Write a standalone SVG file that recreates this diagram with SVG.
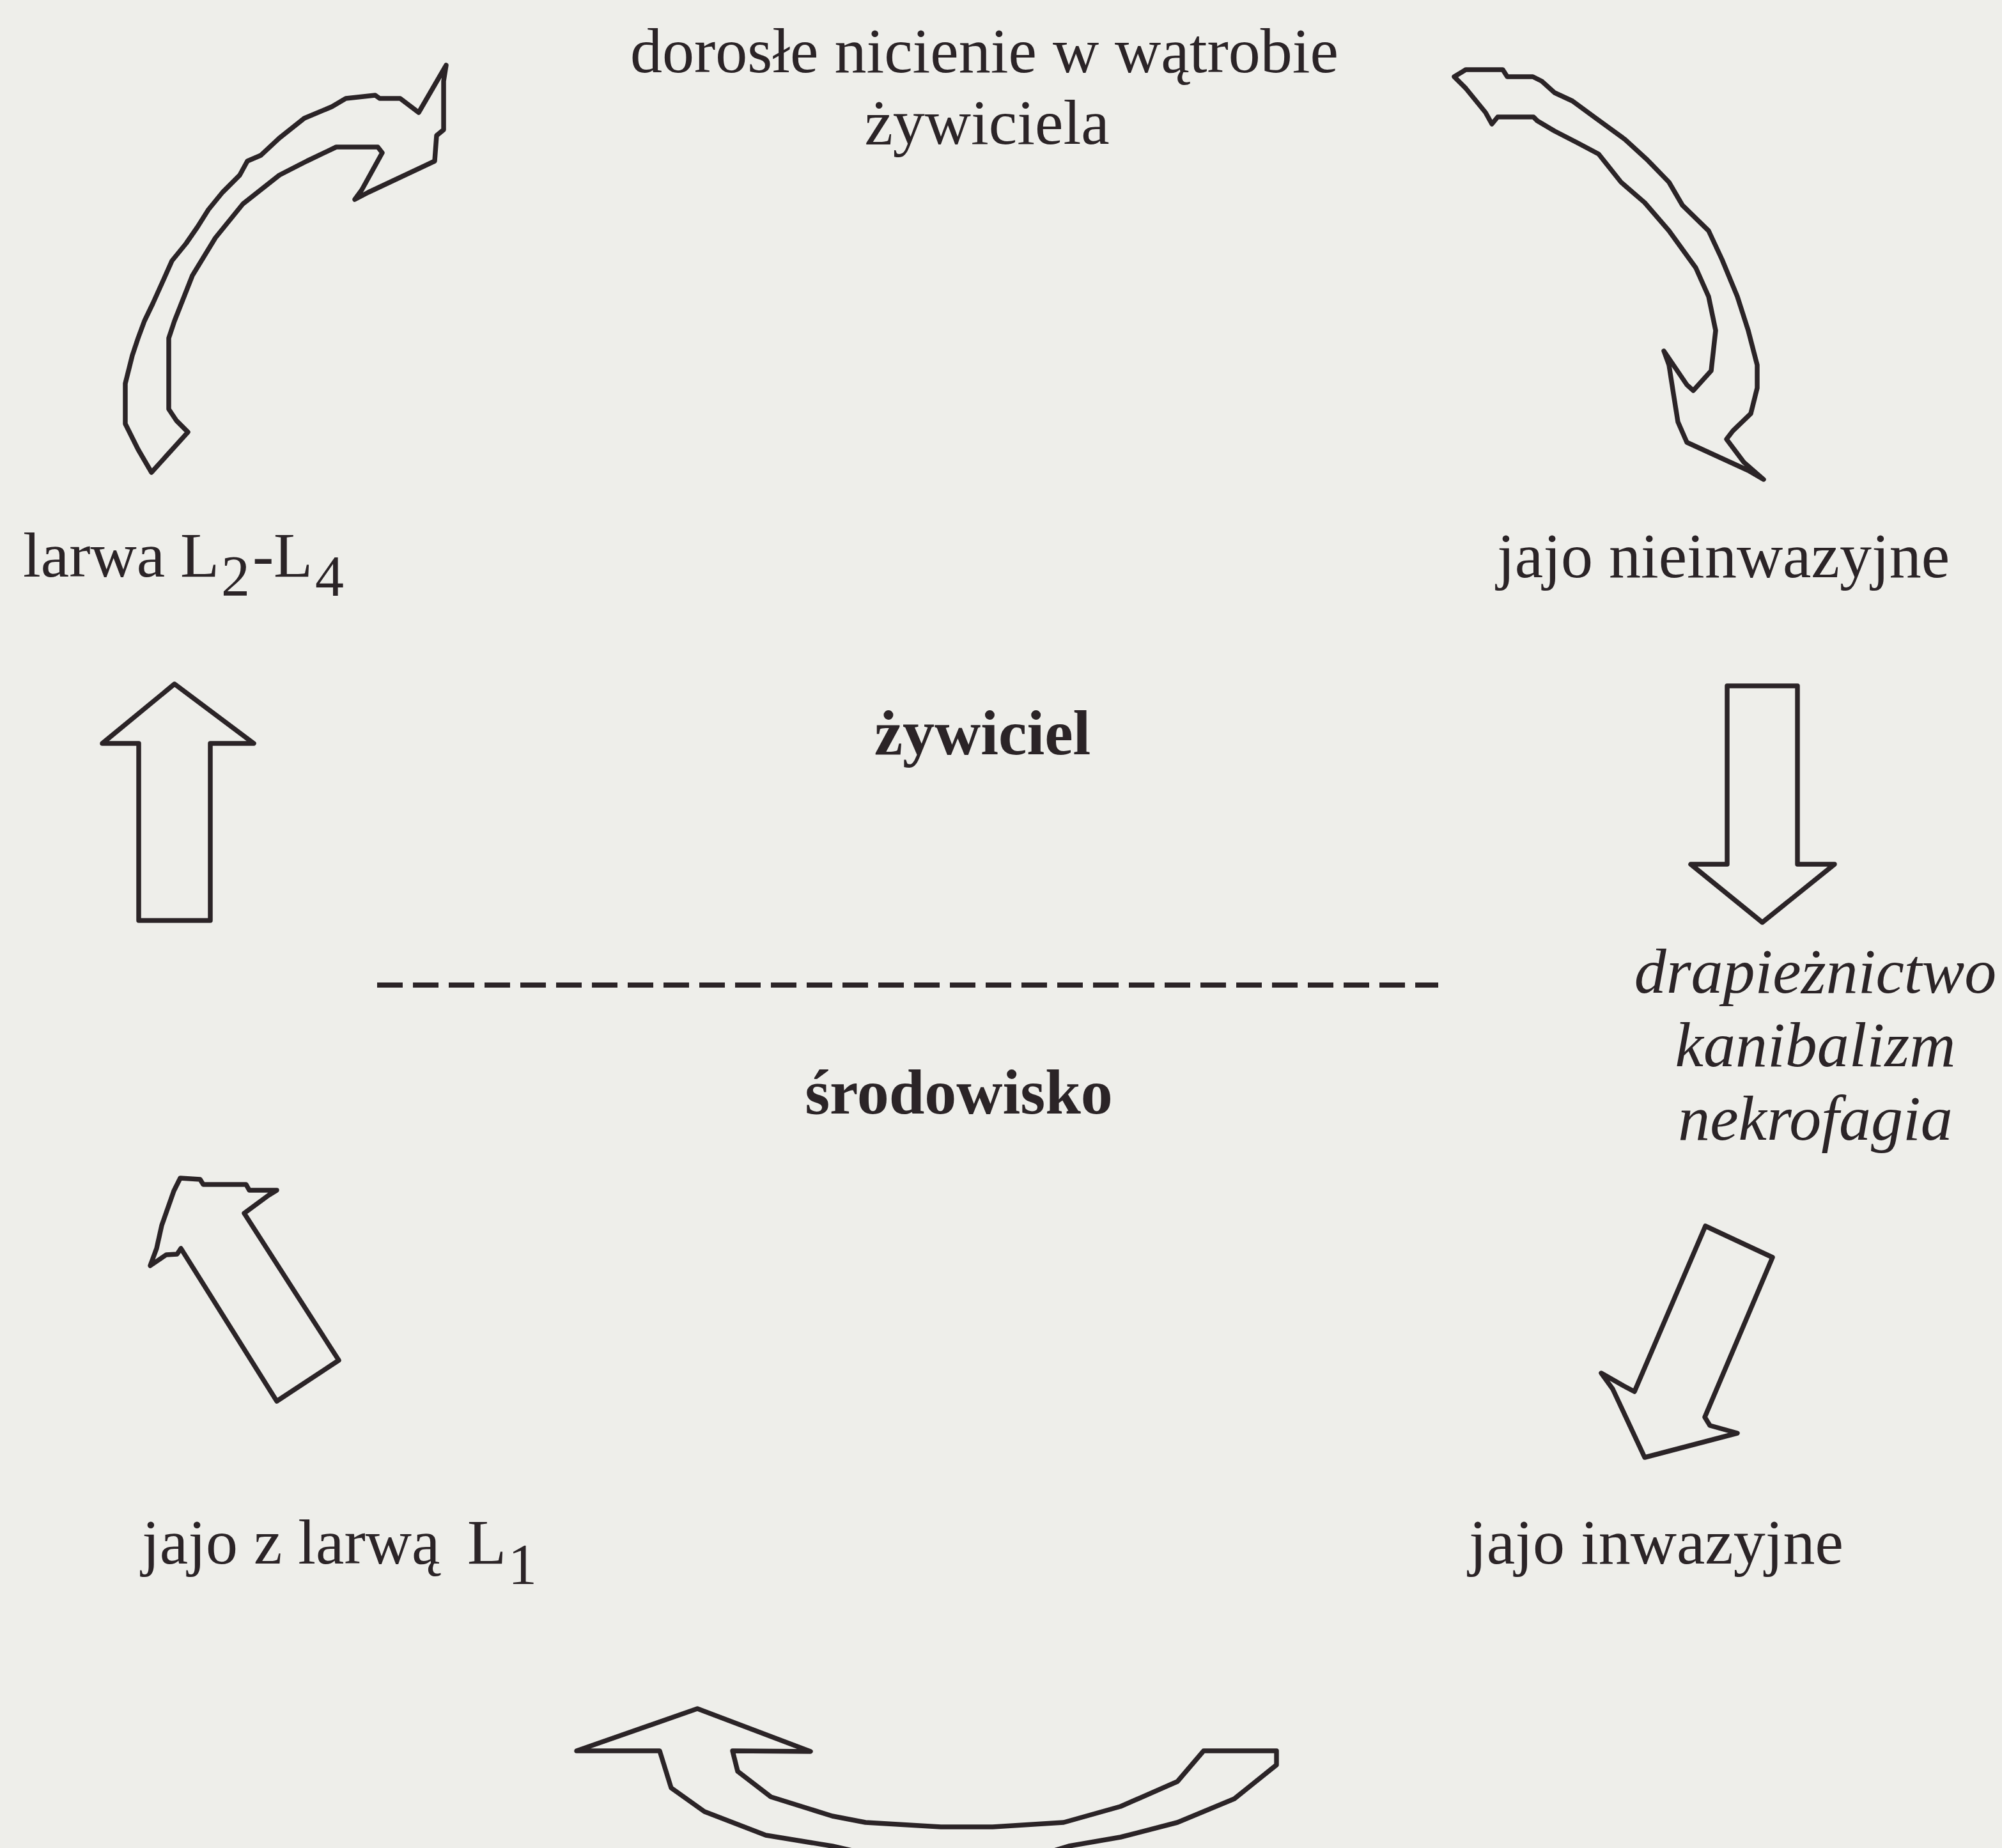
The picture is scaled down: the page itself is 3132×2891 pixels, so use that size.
<svg xmlns="http://www.w3.org/2000/svg" width="3132" height="2891" viewBox="0 0 3132 2891">
<style>
.t{font-family:"Liberation Serif","Times New Roman",serif;font-size:100px;fill:#2b2427}
.b{font-weight:bold}
.i{font-style:italic}
.m{text-anchor:middle}
.ar{fill:none;stroke:#2b2427;stroke-width:7.5;stroke-linejoin:round;stroke-linecap:round}
</style>
<rect width="3132" height="2891" fill="#eeeeea"/>
<g id="connectors">
<polygon id="arr-tl" class="ar" points="196,663 196,600 207,556 216,529 226,502 239,475 257,435 269,408 291,381 309,355 326,328 348,301 375,274 387,252 408,243 437,216 476,185 519,167 541,154 587,149 594,154 626,154 655,176 698,102 694,127 694,203 683,212 680,252 576,301 555,312 566,297 598,239 591,230 526,230 480,252 437,274 380,319 337,372 301,431 273,502 264,529 264,640 276,658 294,676 237,739 216,703"/>
<polygon id="arr-tr" class="ar" points="2275,120 2293,109 2351,109 2358,120 2398,120 2412,127 2432,145 2460,158 2494,183 2542,218 2577,250 2611,285 2632,321 2673,361 2694,406 2718,464 2735,517 2749,571 2749,607 2739,647 2711,674 2701,687 2728,723 2759,750 2735,736 2639,692 2625,660 2618,616 2611,571 2603,549 2639,602 2649,611 2677,580 2684,517 2673,464 2653,419 2611,361 2573,317 2536,285 2501,241 2467,223 2432,205 2405,189 2399,183 2343,183 2334,194 2324,176 2293,138"/>
<polygon id="arr-up" class="ar" points="273,1070 397,1163 329,1163 329,1440 217,1440 217,1163 160,1163"/>
<polygon id="arr-down" class="ar" points="2702,1073 2812,1073 2812,1352 2870,1352 2757,1443 2645,1352 2702,1352"/>
<polygon id="arr-bl" class="ar" points="282,1843 313,1845 318,1853 385,1853 390,1862 433,1862 420,1870 382,1898 530,2128 433,2192 283,1953 277,1962 260,1963 235,1980 245,1953 253,1917 272,1863"/>
<polygon id="arr-br" class="ar" points="2668,1918 2773,1967 2667,2217 2675,2230 2718,2242 2573,2280 2523,2173 2505,2148 2540,2168 2557,2177"/>
<polygon id="arr-bottom" class="ar" points="902,2739 1091,2673 1268,2740 1146,2739 1154,2771 1206,2811 1302,2841 1354,2851 1472,2858 1553,2858 1664,2851 1753,2826 1842,2787 1883,2739 1997,2739 1997,2761 1931,2814 1842,2851 1753,2874 1672,2888 1600,2910 1400,2910 1302,2888 1198,2871 1102,2834 1050,2797 1032,2739"/>
<line id="divider" x1="590" y1="1541" x2="2250" y2="1541" stroke="#2b2427" stroke-width="8" stroke-dasharray="40 16"/>
</g>
<g id="node-adult">
<text class="t m" x="1540" y="113">dorosłe nicienie w wątrobie</text>
<text class="t m" x="1544" y="225">żywiciela</text>
</g>
<g id="node-larva">
<text class="t" y="902"><tspan x="36">larwa</tspan><tspan x="282">L</tspan><tspan x="346" y="932" font-size="90">2</tspan><tspan x="395" y="902">-</tspan><tspan x="428">L</tspan><tspan x="493" y="932" font-size="90">4</tspan></text>
</g>
<g id="node-egg-noninv">
<text class="t" x="2342" y="903">jajo nieinwazyjne</text>
</g>
<g id="node-host">
<text class="t b m" x="1537" y="1180">żywiciel</text>
</g>
<g id="node-env">
<text class="t b m" x="1500" y="1742">środowisko</text>
</g>
<g id="node-routes">
<text class="t i m" x="2840" y="1553">drapieżnictwo</text>
<text class="t i m" x="2840" y="1668">kanibalizm</text>
<text class="t i m" x="2840" y="1783">nekrofagia</text>
</g>
<g id="node-egg-l1">
<text class="t" y="2446"><tspan x="222">jajo z larwą</tspan><tspan x="731">L</tspan><tspan x="795" y="2478" font-size="90">1</tspan></text>
</g>
<g id="node-egg-inv">
<text class="t" x="2298" y="2446">jajo inwazyjne</text>
</g>
</svg>
